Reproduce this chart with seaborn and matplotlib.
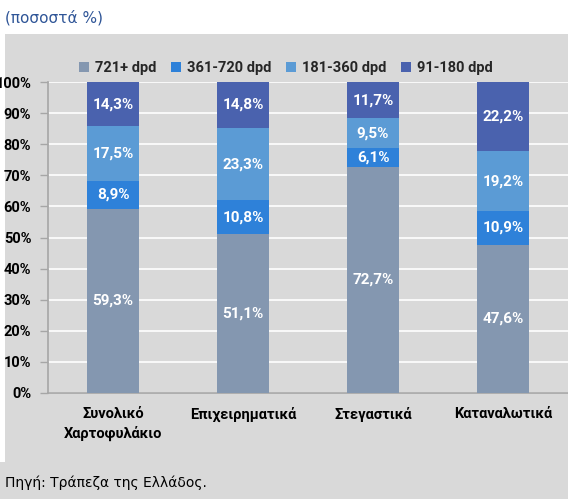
import matplotlib
matplotlib.use("Agg")
import matplotlib.pyplot as plt
from matplotlib.patches import Rectangle, Patch
import seaborn as sns
import pandas as pd
import numpy as np

categories = ["Συνολικό\nΧαρτοφυλάκιο", "Επιχειρηματικά", "Στεγαστικά", "Καταναλωτικά"]
series_names = ["721+ dpd", "361-720 dpd", "181-360 dpd", "91-180 dpd"]
v_721 = [59.3, 51.1, 72.7, 47.6]
v_361 = [8.9, 10.8, 6.1, 10.9]
v_181 = [17.5, 23.3, 9.5, 19.2]
v_91 = [14.3, 14.8, 11.7, 22.2]
yticks = [0, 10, 20, 30, 40, 50, 60, 70, 80, 90, 100]
ytick_labels = ["0%", "10%", "20%", "30%", "40%", "50%", "60%", "70%", "80%", "90%", "100%"]
title = "(ποσοστά %)"
source = "Πηγή: Τράπεζα της Ελλάδος."

colors = ["#8497B0", "#2E81D9", "#5B9BD5", "#4A62AE"]
series = [v_721, v_361, v_181, v_91]

sns.set_theme(style="white")
plt.rcParams['font.family'] = ['Roboto', 'DejaVu Sans']

W, H = 568, 499
fig = plt.figure(figsize=(W / 100, H / 100), dpi=100)
fig.patch.set_facecolor("white")
gray = "#D9D9D9"
fig.patches.append(Rectangle((5 / W, 37 / H), 1 - 5 / W, (H - 34 - 37) / H,
                             transform=fig.transFigure, facecolor=gray, edgecolor="none", zorder=-10))
fig.patches.append(Rectangle((0, 0), 1, 37 / H,
                             transform=fig.transFigure, facecolor=gray, edgecolor="none", zorder=-10))

ax = fig.add_axes([48 / W, (H - 393) / H, (W - 48) / W, (393 - 82) / H])
ax.set_facecolor("none")

df = pd.DataFrame({"cat": categories})
cum = np.zeros(len(categories))
cums = []
for s in series:
    cum = cum + np.array(s)
    cums.append(cum.copy())

for i in range(len(series) - 1, -1, -1):
    d = df.copy()
    d["val"] = cums[i]
    sns.barplot(data=d, x="cat", y="val", color=colors[i], width=0.4,
                saturation=1, ax=ax, zorder=3, linewidth=0)

for j in range(len(categories)):
    base = 0
    for i, s in enumerate(series):
        ax.text(j, base + s[j] / 2, f"{s[j]:.1f}%".replace(".", ","), ha="center", va="center",
                color="white", fontsize=11, fontweight="bold", zorder=5)
        base += s[j]

ax.set_xlim(-0.5, 3.5)
ax.set_ylim(0, 100)
ax.set_yticks(yticks)
ax.set_yticklabels(ytick_labels, fontsize=10.5, fontweight="bold", color="black")
ax.yaxis.grid(True, color="white", linewidth=1.2, zorder=0)
ax.set_axisbelow(True)
ax.set_xlabel("")
ax.set_ylabel("")
ax.set_xticks(range(len(categories)))
ax.set_xticklabels(categories, fontsize=10.5, fontweight="bold", color="black", linespacing=1.45)
ax.set_xticks([-0.5, 0.5, 1.5, 2.5], minor=True)
ax.tick_params(axis="x", which="major", length=0, pad=10)
ax.tick_params(axis="x", which="minor", length=5, color="#A6A6A6", direction="out", width=1)
ax.tick_params(axis="y", which="major", length=6, color="#A6A6A6", direction="out", width=1, pad=6,
               left=True)
for side in ["top", "right"]:
    ax.spines[side].set_visible(False)
for side in ["left", "bottom"]:
    ax.spines[side].set_visible(True)
    ax.spines[side].set_color("#A6A6A6")
    ax.spines[side].set_linewidth(1.2)

handles = [Patch(facecolor=c, edgecolor="none", label=n) for c, n in zip(colors, series_names)]
ax.legend(handles=handles, loc="center", bbox_to_anchor=(0.458, 1.045), ncol=4, frameon=False,
          handlelength=0.7, handleheight=0.7, handletextpad=0.4, columnspacing=1.0,
          prop={"size": 10.5, "weight": "bold"})

fig.text(5 / W, 1 - 18 / H, title, ha="left", va="center", fontsize=11, color="#2F5597",
         family=["DejaVu Sans"])
fig.text(5 / W, 1 - 483 / H, source, ha="left", va="center", fontsize=10, color="black",
         family=["DejaVu Sans"])
fig.patches.append(Rectangle((0, 37 / H), 5 / W, (H - 34 - 37) / H,
                             transform=fig.transFigure, facecolor="white", edgecolor="none", zorder=-5))

fig.savefig("out.png", dpi=100, facecolor=fig.get_facecolor())
